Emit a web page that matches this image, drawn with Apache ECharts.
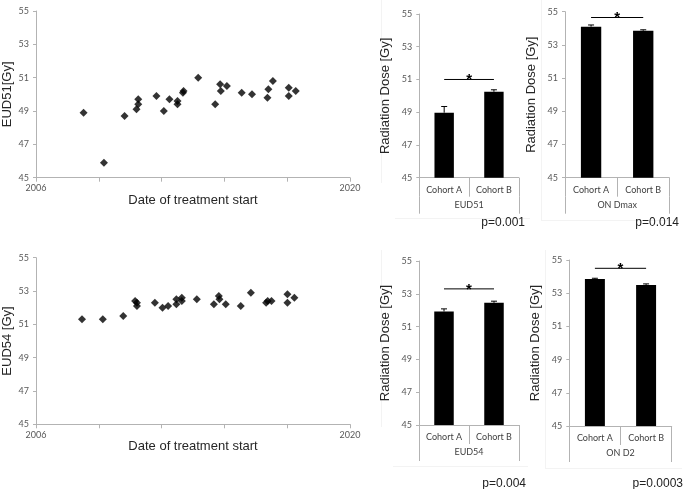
<!DOCTYPE html>
<html>
<head>
<meta charset="utf-8">
<script src="https://cdn.jsdelivr.net/npm/echarts@6/dist/echarts.min.js"></script>
<style>html,body{margin:0;padding:0;background:#fff}#c{width:685px;height:489px}</style>
</head>
<body>
<div id="c"></div>
<script>
// ---- data ----
const years51 = [2008.12, 2009.03, 2009.95, 2010.48, 2010.56, 2010.56, 2011.37, 2011.70, 2011.95, 2012.31, 2012.31, 2012.55, 2012.58, 2013.23, 2013.99, 2014.21, 2014.24, 2014.51, 2015.17, 2015.63, 2016.32, 2016.36, 2016.56, 2017.27, 2017.27, 2017.58];
const eud51   = [48.9, 45.9, 48.7, 49.1, 49.4, 49.7, 49.9, 49.0, 49.7, 49.4, 49.6, 50.1, 50.2, 51.0, 49.4, 50.6, 50.2, 50.5, 50.1, 50.0, 49.8, 50.3, 50.8, 50.4, 49.9, 50.2];
const years54 = [2008.05, 2008.98, 2009.89, 2010.42, 2010.50, 2010.50, 2011.30, 2011.64, 2011.89, 2012.26, 2012.26, 2012.50, 2012.50, 2013.17, 2013.93, 2014.15, 2014.18, 2014.46, 2015.13, 2015.58, 2016.26, 2016.33, 2016.50, 2017.21, 2017.21, 2017.52];
const eud54   = [51.3, 51.3, 51.5, 52.4, 52.3, 52.1, 52.3, 52.0, 52.1, 52.2, 52.5, 52.6, 52.4, 52.5, 52.2, 52.7, 52.5, 52.2, 52.1, 52.9, 52.3, 52.4, 52.4, 52.8, 52.3, 52.6];
const xTickYears = [2006, 2008.8, 2011.6, 2014.4, 2017.2, 2020];
const xLabelYears = [2006, 2020];

const cohorts = ['Cohort A', 'Cohort B'];
const eud51Means = [48.97, 50.25];
const eud51Err   = [0.38, 0.12];
const onDmaxMeans = [54.1, 53.85];
const onDmaxErr   = [0.1, 0.06];
const eud54Means = [51.92, 52.45];
const eud54Err   = [0.16, 0.1];
const onD2Means = [53.85, 53.5];
const onD2Err   = [0.05, 0.06];
const sigLevels = [51.0, 54.65, 53.3, 54.5];
const groupNames = ['EUD51', 'ON Dmax', 'EUD54', 'ON D2'];
const pValues = ['p=0.001', 'p=0.014', 'p=0.004', 'p=0.0003'];

// ---- styling ----
const AXC = '#b3b3b3';
const TICKFONT = {fontFamily: 'Lato', fontSize: 9, color: '#595959'};
const TITLEFONT = {fontFamily: 'Liberation Sans', fontSize: 13, color: '#262626'};

const grids = [
  {left: 35.7, top: 11, width: 314.3, height: 166.7},
  {left: 35.7, top: 257.7, width: 314.3, height: 166.6},
  {left: 419.3, top: 14, width: 99.5, height: 163.7},
  {left: 565, top: 11.7, width: 104.3, height: 166},
  {left: 419, top: 261, width: 100, height: 164},
  {left: 569.3, top: 260, width: 102.4, height: 166}
];

function valueY(gi, name, gap) {
  return {
    type: 'value', gridIndex: gi, min: 45, max: 55, interval: 2,
    name: name, nameLocation: 'middle', nameGap: gap, nameTextStyle: TITLEFONT,
    axisLine: {show: true, lineStyle: {color: AXC}},
    axisTick: {show: true, length: 3, lineStyle: {color: AXC}},
    axisLabel: Object.assign({margin: 7}, TICKFONT),
    splitLine: {show: false}
  };
}
function scatterX(gi) {
  return {
    type: 'value', gridIndex: gi, min: 2006, max: 2020,
    name: 'Date of treatment start', nameLocation: 'middle', nameGap: 15, nameTextStyle: TITLEFONT,
    axisLine: {show: true, onZero: false, lineStyle: {color: AXC}},
    axisTick: {show: true, length: 4, customValues: xTickYears, lineStyle: {color: AXC}},
    axisLabel: Object.assign({margin: 6, customValues: xLabelYears, formatter: v => String(Math.round(v))}, TICKFONT),
    splitLine: {show: false}
  };
}
function catX(gi) {
  return {
    type: 'category', gridIndex: gi, data: cohorts, position: 'bottom',
    axisLine: {show: true, onZero: false, lineStyle: {color: AXC}},
    axisTick: {show: true, length: 19, interval: 0, lineStyle: {color: AXC}},
    axisLabel: Object.assign({margin: 8, interval: 0}, TICKFONT, {color: '#404040'}),
    splitLine: {show: false}
  };
}
function groupX(gi, name) {
  return {
    type: 'category', gridIndex: gi, data: [name], position: 'bottom', offset: 19,
    axisLine: {show: false, onZero: false},
    axisTick: {show: true, length: 17, interval: 0, lineStyle: {color: AXC}},
    axisLabel: Object.assign({margin: 4, interval: 0}, TICKFONT, {color: '#404040'}),
    splitLine: {show: false}
  };
}

const xAxes = [scatterX(0), scatterX(1)];
const yAxes = [valueY(0, 'EUD51[Gy]', 22), valueY(1, 'EUD54 [Gy]', 22)];
const series = [
  {type: 'scatter', xAxisIndex: 0, yAxisIndex: 0, symbol: 'diamond', symbolSize: 8,
   itemStyle: {color: '#000'}, data: years51.map((y, i) => [y, eud51[i]])},
  {type: 'scatter', xAxisIndex: 1, yAxisIndex: 1, symbol: 'diamond', symbolSize: 8,
   itemStyle: {color: '#000'}, data: years54.map((y, i) => [y, eud54[i]])}
];

const barSets = [
  {means: eud51Means, err: eud51Err},
  {means: onDmaxMeans, err: onDmaxErr},
  {means: eud54Means, err: eud54Err},
  {means: onD2Means, err: onD2Err}
];

barSets.forEach((set, k) => {
  const gi = k + 2;
  const catIdx = xAxes.length;
  xAxes.push(catX(gi));
  xAxes.push(groupX(gi, groupNames[k]));
  const yIdx = yAxes.length;
  yAxes.push(valueY(gi, 'Radiation Dose [Gy]', 27));
  series.push({
    type: 'bar', xAxisIndex: catIdx, yAxisIndex: yIdx, barWidth: '39%',
    itemStyle: {color: '#000'}, data: set.means, z: 2
  });
  series.push({
    type: 'custom', xAxisIndex: catIdx, yAxisIndex: yIdx, z: 3,
    data: set.means.map((m, i) => [i, m, set.err[i]]),
    renderItem: function (params, api) {
      const p = api.coord([api.value(0), api.value(1)]);
      const t = api.coord([api.value(0), api.value(1) + api.value(2)]);
      const st = {stroke: '#000', lineWidth: 1};
      return {type: 'group', children: [
        {type: 'line', shape: {x1: p[0], y1: p[1], x2: t[0], y2: t[1]}, style: st},
        {type: 'line', shape: {x1: t[0] - 3, y1: t[1], x2: t[0] + 3, y2: t[1]}, style: st}
      ]};
    }
  });
  series.push({
    type: 'custom', xAxisIndex: catIdx, yAxisIndex: yIdx, z: 3,
    data: [[0, sigLevels[k], 1]],
    renderItem: function (params, api) {
      const a = api.coord([api.value(0), api.value(1)]);
      const b = api.coord([api.value(2), api.value(1)]);
      return {type: 'group', children: [
        {type: 'line', shape: {x1: a[0], y1: a[1], x2: b[0], y2: b[1]}, style: {stroke: '#000', lineWidth: 1}},
        {type: 'text', style: {text: '*', x: (a[0] + b[0]) / 2, y: a[1] - 7, align: 'center', verticalAlign: 'top',
          font: 'bold 15px "Liberation Sans"', fill: '#000'}}
      ]};
    }
  });
});

const faint = '#f3f3f3';
const graphics = [
  {type: 'line', shape: {x1: 381.5, y1: 0, x2: 381.5, y2: 183}, style: {stroke: faint}},
  {type: 'line', shape: {x1: 395, y1: 218.5, x2: 530, y2: 218.5}, style: {stroke: faint}},
  {type: 'line', shape: {x1: 541.5, y1: 0, x2: 541.5, y2: 220}, style: {stroke: faint}},
  {type: 'line', shape: {x1: 541, y1: 220.5, x2: 678, y2: 220.5}, style: {stroke: faint}},
  {type: 'line', shape: {x1: 381.5, y1: 250, x2: 381.5, y2: 427}, style: {stroke: faint}},
  {type: 'line', shape: {x1: 393, y1: 466.5, x2: 528, y2: 466.5}, style: {stroke: faint}},
  {type: 'line', shape: {x1: 545.5, y1: 250, x2: 545.5, y2: 468}, style: {stroke: faint}},
  {type: 'line', shape: {x1: 545, y1: 468.5, x2: 682, y2: 468.5}, style: {stroke: faint}}
];
const pPos = [[525, 223], [679, 223], [526, 484], [683, 484]];
pValues.forEach((t, i) => {
  graphics.push({type: 'text', x: pPos[i][0], y: pPos[i][1],
    style: {text: t, align: 'right', verticalAlign: 'middle', font: '12px "Liberation Sans"', fill: '#222'}});
});

const chart = echarts.init(document.getElementById('c'), null, {renderer: 'canvas'});
chart.setOption({
  animation: false,
  backgroundColor: '#fff',
  grid: grids,
  xAxis: xAxes,
  yAxis: yAxes,
  series: series,
  graphic: graphics
});
</script>
</body>
</html>
